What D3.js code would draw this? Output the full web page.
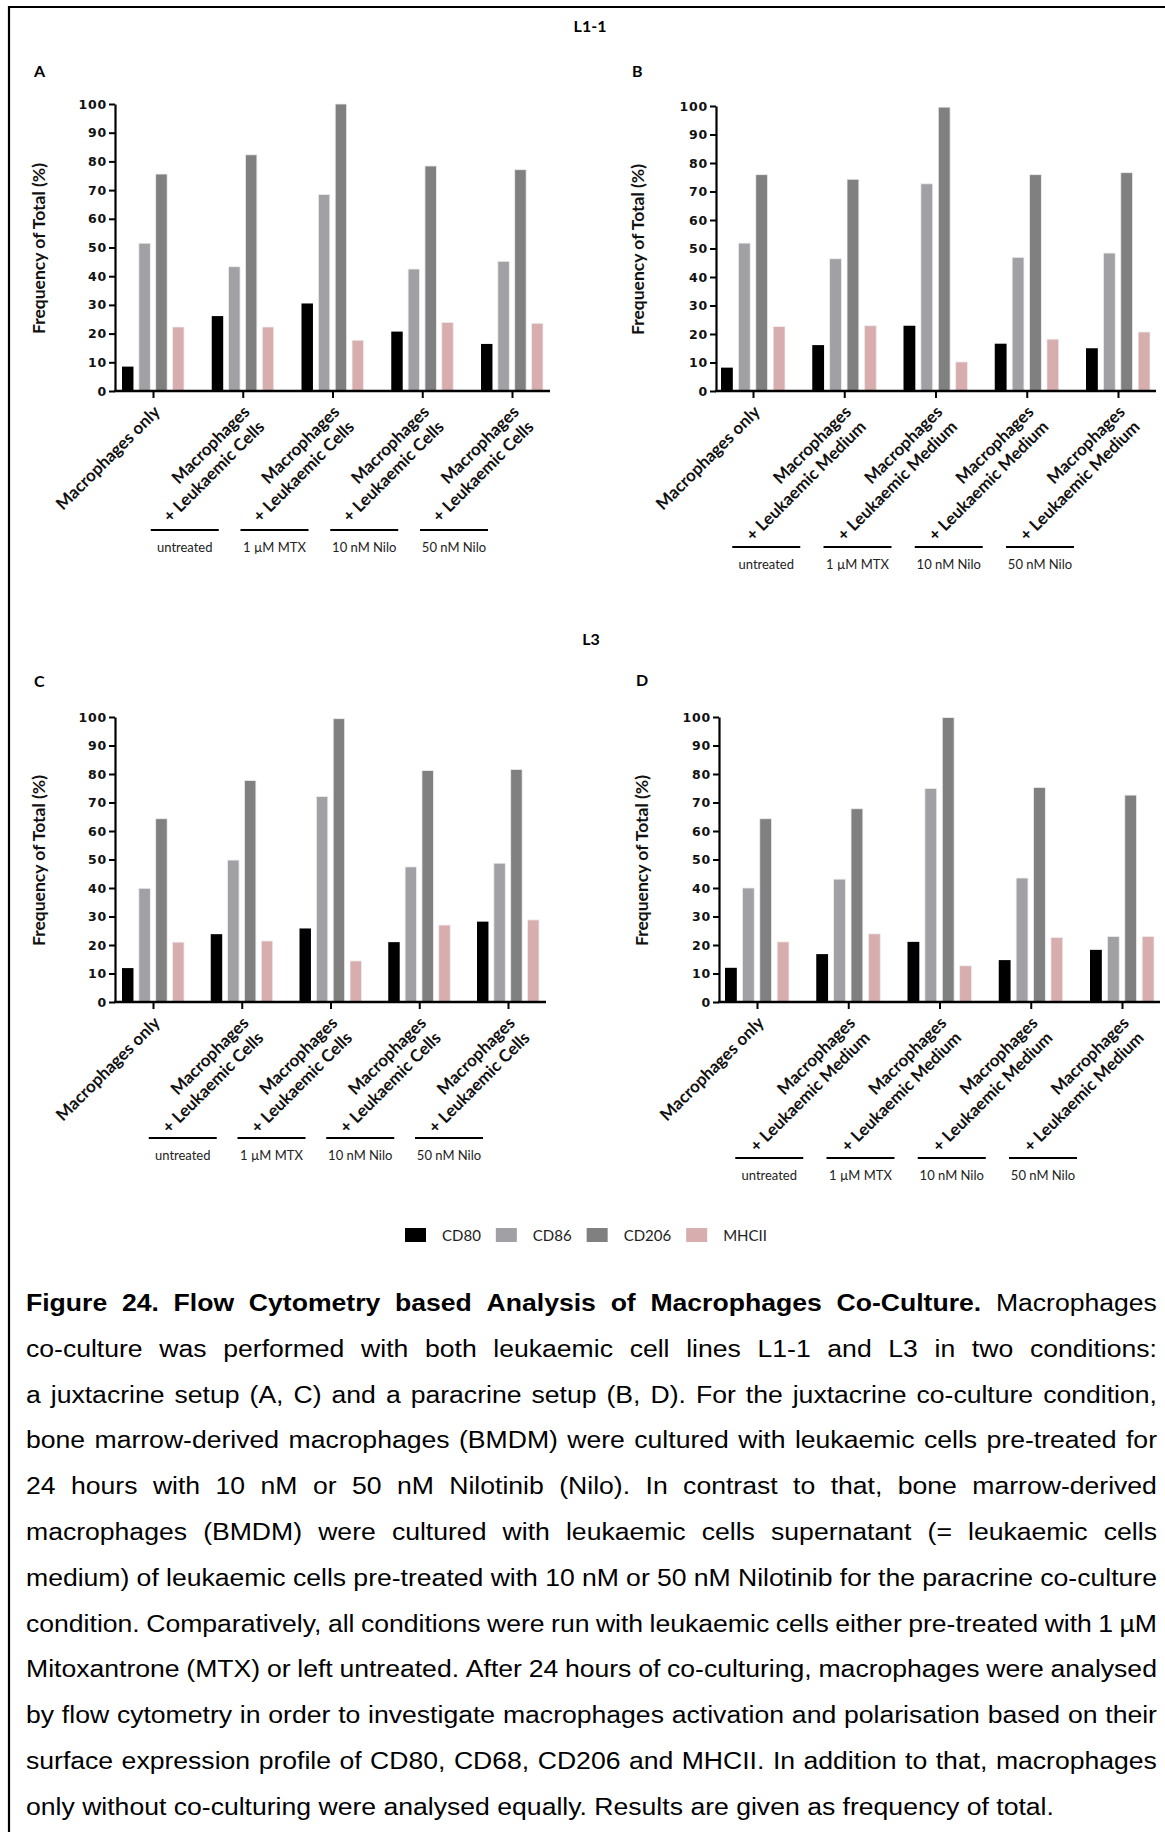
<!DOCTYPE html>
<html><head><meta charset="utf-8">
<script src="https://cdn.jsdelivr.net/npm/d3@7"></script>
<style>body{margin:0;background:#fff} svg{display:block}</style>
</head><body>
<svg id="fig" width="1165" height="1832"></svg>
<script>
// ---------- data ----------
const series = ["CD80", "CD86", "CD206", "MHCII"];
const seriesColors = ["#000000", "#a0a0a5", "#808080", "#d8adad"];
const yTicks = [0, 10, 20, 30, 40, 50, 60, 70, 80, 90, 100];
const treatments = ["untreated", "1 µM MTX", "10 nM Nilo", "50 nM Nilo"];
const labelsJuxta = [["Macrophages only"], ["Macrophages", "+ Leukaemic Cells"], ["Macrophages", "+ Leukaemic Cells"], ["Macrophages", "+ Leukaemic Cells"], ["Macrophages", "+ Leukaemic Cells"]];
const labelsPara = [["Macrophages only"], ["Macrophages", "+ Leukaemic Medium"], ["Macrophages", "+ Leukaemic Medium"], ["Macrophages", "+ Leukaemic Medium"], ["Macrophages", "+ Leukaemic Medium"]];

// Panel A (L1-1, juxtacrine)
const A_CD80 = [8.5, 26.1, 30.5, 20.7, 16.4];
const A_CD86 = [51.5, 43.3, 68.5, 42.5, 45.2];
const A_CD206 = [75.6, 82.3, 100, 78.4, 77.1];
const A_MHCII = [22.3, 22.3, 17.7, 23.9, 23.6];
// Panel B (L1-1, paracrine)
const B_CD80 = [8.2, 16.1, 22.9, 16.6, 15.0];
const B_CD86 = [51.9, 46.4, 72.7, 46.9, 48.4];
const B_CD206 = [75.9, 74.3, 99.6, 75.9, 76.6];
const B_MHCII = [22.6, 22.9, 10.2, 18.2, 20.7];
// Panel C (L3, juxtacrine)
const C_CD80 = [11.9, 23.8, 25.8, 21.0, 28.2];
const C_CD86 = [39.9, 49.8, 72.1, 47.4, 48.7];
const C_CD206 = [64.3, 77.7, 99.4, 81.2, 81.6];
const C_MHCII = [21.0, 21.4, 14.4, 27.0, 28.8];
// Panel D (L3, paracrine)
const D_CD80 = [12.0, 16.8, 21.1, 14.7, 18.3];
const D_CD86 = [40.0, 43.1, 74.9, 43.5, 23.0];
const D_CD206 = [64.3, 67.8, 99.8, 75.3, 72.6];
const D_MHCII = [21.1, 23.9, 12.7, 22.6, 23.0];

const captionBold = "Figure 24. Flow Cytometry based Analysis of Macrophages Co-Culture.";
const captionLines = [
  "Macrophages",
  "co-culture was performed with both leukaemic cell lines L1-1 and L3 in two conditions:",
  "a juxtacrine setup (A, C) and a paracrine setup (B, D). For the juxtacrine co-culture condition,",
  "bone marrow-derived macrophages (BMDM) were cultured with leukaemic cells pre-treated for",
  "24 hours with 10 nM or 50 nM Nilotinib (Nilo). In contrast to that, bone marrow-derived",
  "macrophages (BMDM) were cultured with leukaemic cells supernatant (= leukaemic cells",
  "medium) of leukaemic cells pre-treated with 10 nM or 50 nM Nilotinib for the paracrine co-culture",
  "condition. Comparatively, all conditions were run with leukaemic cells either pre-treated with 1 µM",
  "Mitoxantrone (MTX) or left untreated. After 24 hours of co-culturing, macrophages were analysed",
  "by flow cytometry in order to investigate macrophages activation and polarisation based on their",
  "surface expression profile of CD80, CD68, CD206 and MHCII. In addition to that, macrophages",
  "only without co-culturing were analysed equally. Results are given as frequency of total."
];

// ---------- drawing ----------
const svg = d3.select("#fig");
const LABEL_FONT = "Lato, 'Open Sans', sans-serif";

// frame
svg.append("line").attr("x1", 8).attr("x2", 1165).attr("y1", 7).attr("y2", 7).attr("stroke", "#000").attr("stroke-width", 2.2);
svg.append("line").attr("x1", 9).attr("x2", 9).attr("y1", 6).attr("y2", 1832).attr("stroke", "#000").attr("stroke-width", 2.2);

// section titles
function title(txt, x, y, anchor) {
  svg.append("text").attr("x", x).attr("y", y).attr("text-anchor", anchor || "middle")
    .attr("font-family", LABEL_FONT).attr("font-weight", 700).attr("font-size", 16).attr("fill", "#000").text(txt);
}
title("L1-1", 590, 32);
title("L3", 591, 645);
title("A", 34, 77, "start");
title("B", 632, 77, "start");
title("C", 34, 687, "start");
title("D", 636, 686, "start");

function drawPanel(cfg) {
  const g = svg.append("g");
  const x = d3.scalePoint().domain(d3.range(5)).range([cfg.c1, cfg.c5]);
  const y = d3.scaleLinear().domain([0, 100]).range([cfg.y0, cfg.y100]);
  const xi = d3.scaleBand().domain(series).range([-cfg.half, cfg.half]).paddingInner(0.32);

  series.forEach((s, si) => {
    g.append("g").selectAll("rect").data(cfg.data[si]).join("rect")
      .attr("x", (d, i) => x(i) + xi(s))
      .attr("y", d => y(d))
      .attr("width", xi.bandwidth())
      .attr("height", d => y(0) - y(d))
      .attr("fill", seriesColors[si])
      .attr("stroke", si === 0 ? "none" : "#eeeeee")
      .attr("stroke-width", 0.8);
  });

  // y axis
  const ya = g.append("g").attr("transform", `translate(${cfg.ax},0)`)
    .call(d3.axisLeft(y).tickValues(yTicks).tickSize(6).tickSizeOuter(0).tickPadding(2));
  ya.select(".domain").attr("stroke", "#000").attr("stroke-width", 2.2);
  ya.selectAll(".tick line").attr("stroke", "#000").attr("stroke-width", 2);
  ya.selectAll(".tick text").attr("font-family", "'DejaVu Sans', sans-serif").attr("font-weight", 700)
    .attr("font-size", 12.5).attr("letter-spacing", 0.8).attr("fill", "#111");

  // x axis
  g.append("line").attr("x1", cfg.ax - 1).attr("x2", cfg.xEnd).attr("y1", cfg.y0).attr("y2", cfg.y0)
    .attr("stroke", "#000").attr("stroke-width", 2.4);
  const xa = g.append("g").attr("transform", `translate(0,${cfg.y0})`)
    .call(d3.axisBottom(x).tickSize(7).tickFormat(""));
  xa.select(".domain").remove();
  xa.selectAll(".tick line").attr("stroke", "#000").attr("stroke-width", 2);

  // rotated category labels
  const lab = g.append("g").selectAll("text").data(cfg.labels).join("text")
    .attr("transform", (d, i) => `translate(${x(i) + 8},${cfg.y0 + 22}) rotate(-45)`)
    .attr("text-anchor", "end")
    .attr("font-family", LABEL_FONT).attr("font-weight", 700).attr("font-size", 17).attr("fill", "#111");
  lab.selectAll("tspan").data(d => d).join("tspan")
    .attr("x", 0).attr("y", (d, j) => j * 21).text(d => d);

  // y axis title
  g.append("text").attr("transform", `translate(${cfg.tx},${(cfg.y0 + cfg.y100) / 2 + 1}) rotate(-90)`)
    .attr("text-anchor", "middle").attr("font-family", LABEL_FONT).attr("font-weight", 700)
    .attr("font-size", 17.5).attr("fill", "#111").text("Frequency of Total (%)");

  // treatment brackets
  const tr = g.append("g").selectAll("g").data(treatments).join("g")
    .attr("transform", (d, i) => `translate(${x(i + 1) + cfg.lineOff},${cfg.lineY})`);
  tr.append("line").attr("x1", -34).attr("x2", 34).attr("y1", 0).attr("y2", 0)
    .attr("stroke", "#000").attr("stroke-width", 2);
  tr.append("text").attr("y", 22).attr("text-anchor", "middle")
    .attr("font-family", LABEL_FONT).attr("font-size", 13).attr("fill", "#222").text(d => d);
}

drawPanel({ data: [A_CD80, A_CD86, A_CD206, A_MHCII], labels: labelsJuxta,
  ax: 115, xEnd: 550, y0: 391, y100: 104, c1: 153, c5: 512, half: 31, tx: 45, lineOff: -58, lineY: 530 });
drawPanel({ data: [B_CD80, B_CD86, B_CD206, B_MHCII], labels: labelsPara,
  ax: 716, xEnd: 1156, y0: 391, y100: 106, c1: 753, c5: 1118, half: 32, tx: 644, lineOff: -78, lineY: 547 });
drawPanel({ data: [C_CD80, C_CD86, C_CD206, C_MHCII], labels: labelsJuxta,
  ax: 115, xEnd: 546, y0: 1002, y100: 717, c1: 153, c5: 508, half: 31, tx: 45, lineOff: -59, lineY: 1138 });
drawPanel({ data: [D_CD80, D_CD86, D_CD206, D_MHCII], labels: labelsPara,
  ax: 719, xEnd: 1160, y0: 1002, y100: 717, c1: 757, c5: 1122, half: 32, tx: 648, lineOff: -79, lineY: 1158 });

// legend
const leg = svg.append("g");
let lx = 405;
series.forEach((s, i) => {
  leg.append("rect").attr("x", lx).attr("y", 1228).attr("width", 21).attr("height", 14).attr("fill", seriesColors[i]);
  const t = leg.append("text").attr("x", lx + 37).attr("y", 1241)
    .attr("font-family", LABEL_FONT).attr("font-size", 15).attr("fill", "#222").text(s);
  lx = lx + 37 + t.node().getComputedTextLength() + 15;
});

// caption, justified (text is slightly stretched horizontally, as in the source)
const CAP_FONT = "'Liberation Sans', Arial, sans-serif";
const capX0 = 26, capX1 = 1157, capY0 = 1311, capDY = 45.8, capSize = 24.5, capSX = 1.085;
const measurer = svg.append("text").attr("font-family", CAP_FONT).attr("font-size", capSize).attr("visibility", "hidden");
function wordWidth(w, bold) {
  measurer.attr("font-weight", bold ? 700 : 400).text(w);
  return measurer.node().getComputedTextLength();
}
const capLines = captionLines.map((l, i) => {
  const words = l.split(" ").map(w => ({ w, bold: false }));
  if (i === 0) return captionBold.split(" ").map(w => ({ w, bold: true })).concat(words);
  return words;
});
const capG = svg.append("g").attr("transform", `translate(${capX0},0) scale(${capSX},1)`);
const lineW = (capX1 - capX0) / capSX;
const spaceW = wordWidth("a b", false) - wordWidth("ab", false);
capLines.forEach((words, li) => {
  const widths = words.map(o => wordWidth(o.w, o.bold));
  const total = d3.sum(widths);
  const last = li === capLines.length - 1;
  const gap = last ? spaceW : (lineW - total) / (words.length - 1);
  let cx = 0;
  words.forEach((o, k) => {
    capG.append("text").attr("x", cx).attr("y", capY0 + li * capDY)
      .attr("font-family", CAP_FONT).attr("font-size", capSize)
      .attr("font-weight", o.bold ? 700 : 400).attr("fill", "#000").text(o.w);
    cx += widths[k] + gap;
  });
});
measurer.remove();
</script>
</body></html>
